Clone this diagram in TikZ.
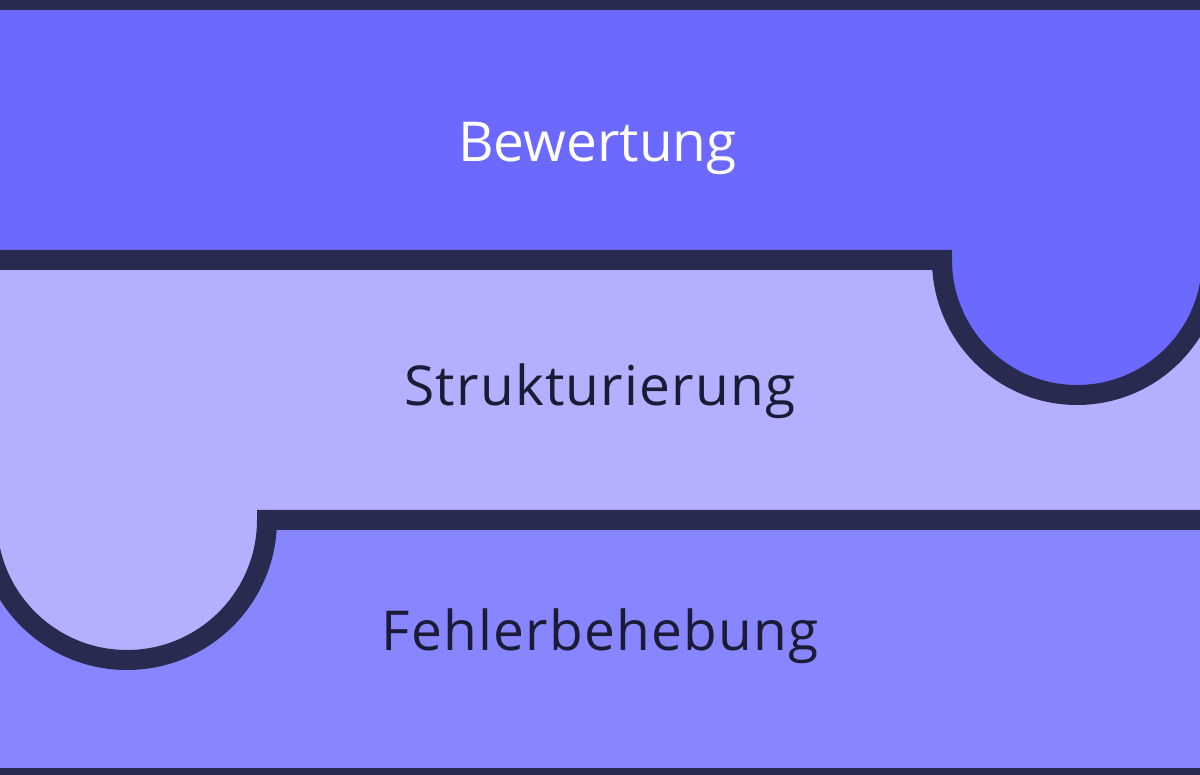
\documentclass[tikz,border=0pt]{standalone}
\usepackage{fontspec}
\setmainfont{Open Sans}
\newfontfamily\widesans[LetterSpace=2.2]{Open Sans}
\definecolor{darkline}{HTML}{292A4F}
\definecolor{topband}{HTML}{6B69FF}
\definecolor{midband}{HTML}{B3B0FF}
\definecolor{botband}{HTML}{8886FF}
\definecolor{darktext}{HTML}{1C1B36}
\begin{document}
\begin{tikzpicture}[x=1pt,y=1pt,
  label/.style={font=\fontsize{55}{60}\selectfont, anchor=base, inner sep=0pt},
  widelabel/.style={font=\widesans\fontsize{55}{60}\selectfont, anchor=base, inner sep=0pt},
  sep/.style={draw=darkline, line width=20pt}]
\useasboundingbox (0,0) rectangle (1200,775);
\begin{scope}
\clip (0,0) rectangle (1200,775);
% bottom band background
\fill[botband] (0,0) rectangle (1200,775);
% middle band with lower-left lobe
\fill[midband] (-20,515) -- (1220,515) -- (1220,255) -- (267,255)
  arc[start angle=0, end angle=-180, radius=140] -- (-20,255) -- cycle;
% top band with lower-right lobe
\fill[topband] (-20,775) -- (1220,775) -- (1220,515) -- (1212,515)
  arc[start angle=0, end angle=-180, radius=135] -- (-20,515) -- cycle;
% separators
\coordinate (s1a) at (-20,515);
\coordinate (s1b) at (942,515);
\draw[sep] (s1a) -- (s1b) arc[start angle=180, end angle=360, radius=135];
\coordinate (s2a) at (1220,255);
\coordinate (s2b) at (267,255);
\draw[sep] (s2a) -- (s2b) arc[start angle=0, end angle=-180, radius=140];
% borders
\fill[darkline] (0,765) rectangle (1200,775);
\fill[darkline] (0,0) rectangle (1200,7);
\end{scope}
\node[label, text=white] (bew) at (597.5,613) {Bewertung};
\node[widelabel, text=darktext] (struk) at (600,369) {Strukturierung};
\node[widelabel, text=darktext] (fehl) at (600,124) {Fehlerbehebung};
\end{tikzpicture}
\end{document}
